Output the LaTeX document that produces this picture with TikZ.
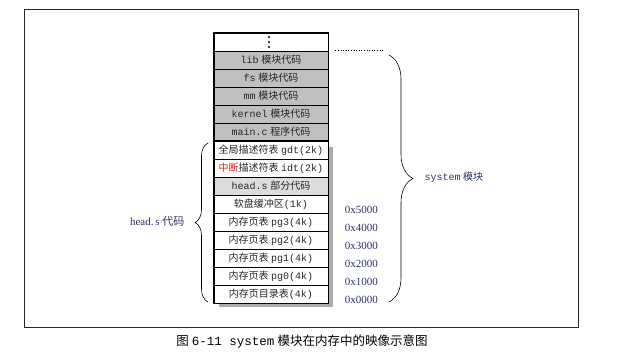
\documentclass[tikz,border=0pt]{standalone}
\usepackage{fontspec}
\setmainfont{Liberation Serif}
\setmonofont{Liberation Mono}
\newfontfamily\cjk{Noto Sans CJK SC}
\newcommand\zh[1]{{\cjk #1}}
\usetikzlibrary{calc,decorations.pathreplacing}
\definecolor{codegray}{HTML}{BFBFBF}
\definecolor{headgray}{HTML}{DCDCDC}
\definecolor{shadowgray}{HTML}{ABABAB}
\definecolor{labelblue}{HTML}{2B3262}
\definecolor{alertred}{HTML}{D9231F}
\tikzset{
  mem cell/.style={draw=black,line width=.6pt,minimum width=114pt,minimum height=18pt,inner sep=0pt,text=black!85,font=\fontsize{10}{12}\selectfont},
  mem block/.style={draw=black,line width=1.2pt},
  mem brace/.style={draw=black,line width=.6pt,decorate,decoration={brace,amplitude=#1}},
  addr label/.style={anchor=west,text=labelblue,font=\fontsize{11}{13}\selectfont},
  side label/.style={text=labelblue,font=\fontsize{10}{12}\selectfont}
}

\begin{document}
\begin{tikzpicture}[x=1pt,y=1pt]
  \useasboundingbox (0,0) rectangle (625,360);
  \draw[line width=1.2pt,draw=black!85] (24.5,32.3) rectangle (578.7,350.7);
  \fill[shadowgray] (218.5,53) rectangle (333,213);
  \foreach \i/\name/\fillc/\txt in {
    0/dots/white/{},
    1/lib/codegray/{\texttt{lib} \zh{模块代码}},
    2/fs/codegray/{\texttt{fs} \zh{模块代码}},
    3/mm/codegray/{\texttt{mm} \zh{模块代码}},
    4/kernel/codegray/{\texttt{kernel} \zh{模块代码}},
    5/mainc/codegray/{\texttt{main.c} \zh{程序代码}},
    6/gdt/white/{\zh{全局描述符表} \texttt{gdt(2k)}},
    7/idt/white/{\zh{\textcolor{alertred}{中断}描述符表} \texttt{idt(2k)}},
    8/heads/headgray/{\texttt{head.s} \zh{部分代码}},
    9/floppy/white/{\zh{软盘缓冲区}\texttt{(1k)}},
    10/pgthree/white/{\zh{内存页表} \texttt{pg3(4k)}},
    11/pgtwo/white/{\zh{内存页表} \texttt{pg2(4k)}},
    12/pgone/white/{\zh{内存页表} \texttt{pg1(4k)}},
    13/pgzero/white/{\zh{内存页表} \texttt{pg0(4k)}},
    14/dir/white/{\zh{内存页目录表}\texttt{(4k)}}}{
    \node[mem cell,fill=\fillc] (\name) at (271,{318-18*\i}) {\txt};
  }
  \foreach \d in {-5,0,5}
    \fill ([shift={(-2,\d)}]dots.center) circle (1.1pt);
  \draw[mem block] (dots.north west) rectangle (mainc.south east);
  \draw[mem block,line width=1pt] (gdt.north west) rectangle (dir.south east);
  % addresses at the row bottoms
  \foreach \row/\addr in {dir/0x0000,pgzero/0x1000,pgone/0x2000,pgtwo/0x3000,pgthree/0x4000,floppy/0x5000}
    \node[addr label] (a-\row) at ($(\row.south east)+(13,3.5)$) {\addr};
  \coordinate (sys top) at (389,305);
  \coordinate (sys bottom) at (389,58);
  \draw[mem brace=24pt] (sys top) -- (sys bottom);
  \node[side label,anchor=west] (sys label) at (421,183) {\texttt{system} \zh{模块}};
  \draw[dotted,line width=.6pt] ([xshift=7pt]lib.north east) -- ++(47,0);
  \coordinate (head top) at (208,217);
  \coordinate (head bottom) at (208,58);
  \draw[mem brace=13pt] (head bottom) -- (head top);
  \node[side label,anchor=east,font=\fontsize{11}{13}\selectfont] (head label) at (188,139) {head.\,s \zh{代码}};
  \node[font=\fontsize{12.5}{14}\selectfont] (caption) at (302,18.3) {\zh{图} \texttt{6-11 system} \zh{模块在内存中的映像示意图}};
\end{tikzpicture}
\end{document}
